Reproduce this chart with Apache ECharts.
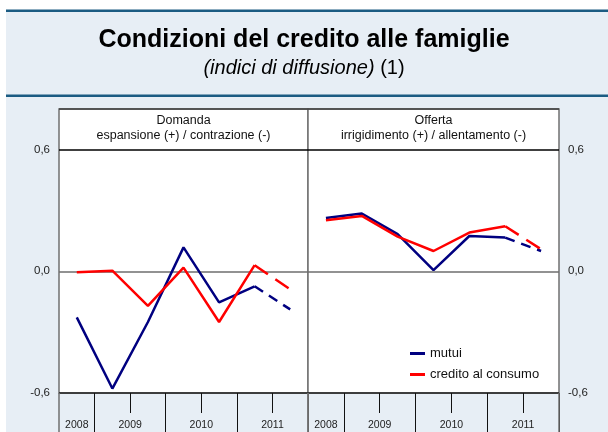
<!DOCTYPE html>
<html>
<head>
<meta charset="utf-8">
<script src="https://cdn.jsdelivr.net/npm/echarts@6/dist/echarts.min.js"></script>
<style>
  html, body { margin: 0; padding: 0; background: #fff; }
  #chart { width: 608px; height: 432px; }
</style>
</head>
<body>
<div id="chart"></div>
<script>
// semestri: 2008 S2 ... 2011 S2 (l'ultimo semestre e' una previsione, tratteggiato)
var periods = ['2008 S2', '2009 S1', '2009 S2', '2010 S1', '2010 S2', '2011 S1', '2011 S2'];
var yearTicks = ['0.5', '2', '4', '6'];
var yearNames = ['2008', '2009', '2010', '2011'];

var domandaMutui = [-0.227, -0.578, -0.25, 0.118, -0.153, -0.074, -0.188];
var domandaConsumo = [-0.005, 0.003, -0.171, 0.018, -0.25, 0.03, -0.089];
var offertaMutui = [0.263, 0.285, 0.183, 0.006, 0.174, 0.166, 0.10];
var offertaConsumo = [0.252, 0.273, 0.171, 0.10, 0.191, 0.222, 0.109];

var BLUE = '#000080';
var RED = '#ff0000';
var FONT = 'Liberation Sans, Arial, sans-serif';

function solidPart(values) {
  return values.map(function (v, i) { return i < values.length - 1 ? v : null; });
}
function dashPart(values) {
  return values.map(function (v, i) { return i >= values.length - 2 ? v : null; });
}
function fmtY(v) {
  if (Math.abs(v - 0.8) < 1e-6) return '';
  return v.toFixed(1).replace('.', ',');
}

var chart = echarts.init(document.getElementById('chart'), null, { renderer: 'canvas' });

var grids = [
  { left: 59, top: 109, width: 249, height: 284 },
  { left: 308, top: 109, width: 251, height: 284 }
];

function tickAxis(gi, length, color, width, filter) {
  return {
    type: 'category', gridIndex: gi, data: periods, boundaryGap: true,
    position: 'bottom', offset: 0,
    axisLine: { show: false, onZero: false },
    axisLabel: { show: false },
    axisTick: {
      show: true, length: length,
      interval: filter,
      lineStyle: { color: color, width: width }
    }
  };
}

var xAxes = [];
var yAxes = [];
grids.forEach(function (g, gi) {
  g.show = true;
  g.backgroundColor = '#fff';
  g.borderColor = '#707070';
  g.borderWidth = 1.5;
  g.containLabel = false;

  // asse dei dati + separatori degli anni
  xAxes.push(tickAxis(gi, 39, '#111', 1, function (i) { return i % 2 === 1; }));
  // tacche di meta' anno
  xAxes.push(tickAxis(gi, 20, '#111', 1, function (i) { return i > 0 && i % 2 === 0; }));
  // bordo del pannello sotto il grafico
  xAxes.push(tickAxis(gi, 39, '#707070', 1.5, function (i) { return i === 0; }));
  // etichette degli anni
  xAxes.push({
    type: 'value', gridIndex: gi, min: 0, max: 7, interval: 0.5,
    position: 'bottom', offset: 0,
    axisLine: { show: false, onZero: false }, axisTick: { show: false }, splitLine: { show: false },
    axisLabel: {
      margin: 27, fontSize: 10.5, color: '#222', fontFamily: FONT,
      showMinLabel: true, showMaxLabel: true,
      formatter: function (v) {
        var k = yearTicks.indexOf(String(v));
        return k >= 0 ? yearNames[k] : '';
      }
    }
  });

  yAxes.push({
    type: 'value', gridIndex: gi, position: gi === 0 ? 'left' : 'right',
    min: -0.6, max: 0.8, interval: 0.6,
    axisLine: { show: false, onZero: false }, axisTick: { show: false },
    axisLabel: { margin: 9, fontSize: 11.5, color: '#222', fontFamily: FONT, formatter: fmtY },
    splitLine: {
      show: true,
      lineStyle: { color: ['#222', '#6e6e6e', '#000', '#404040'], width: 1.5 }
    }
  });
});

function lineSeries(name, values, color, gi, dashed) {
  var dash = color === RED ? [16, 9] : [10, 7];
  return {
    name: name, type: 'line',
    xAxisIndex: gi * 4, yAxisIndex: gi,
    data: dashed ? dashPart(values) : solidPart(values),
    symbol: 'none', connectNulls: false, z: color === RED ? 4 : 3,
    lineStyle: { color: color, width: 2.5, type: dashed ? dash : 'solid' },
    itemStyle: { color: color }
  };
}

var series = [
  lineSeries('mutui', domandaMutui, BLUE, 0, false),
  lineSeries('mutui (prev.)', domandaMutui, BLUE, 0, true),
  lineSeries('credito al consumo', domandaConsumo, RED, 0, false),
  lineSeries('credito al consumo (prev.)', domandaConsumo, RED, 0, true),
  lineSeries('mutui', offertaMutui, BLUE, 1, false),
  lineSeries('mutui (prev.)', offertaMutui, BLUE, 1, true),
  lineSeries('credito al consumo', offertaConsumo, RED, 1, false),
  lineSeries('credito al consumo (prev.)', offertaConsumo, RED, 1, true)
];

chart.setOption({
  animation: false,
  backgroundColor: '#e7eef5',
  grid: grids,
  xAxis: xAxes,
  yAxis: yAxes,
  legend: {
    data: ['mutui', 'credito al consumo'],
    orient: 'vertical',
    left: 405, top: 342,
    icon: 'rect', itemWidth: 15, itemHeight: 3, itemGap: 8,
    selectedMode: false,
    textStyle: { fontSize: 13, color: '#111', fontFamily: FONT }
  },
  graphic: [
    { type: 'rect', shape: { x: 0, y: 0, width: 608, height: 10 }, style: { fill: '#fff' }, silent: true },
    { type: 'rect', shape: { x: 0, y: 0, width: 6, height: 432 }, style: { fill: '#fff' }, silent: true },
    { type: 'rect', shape: { x: 6, y: 9.5, width: 602, height: 2.5 }, style: { fill: '#1b5b82' }, silent: true },
    { type: 'rect', shape: { x: 6, y: 94.5, width: 602, height: 2.5 }, style: { fill: '#1b5b82' }, silent: true },
    {
      type: 'text', x: 304, y: 40, silent: true,
      style: {
        text: 'Condizioni del credito alle famiglie', align: 'center', verticalAlign: 'middle',
        font: 'bold 25px ' + FONT, fill: '#000'
      }
    },
    {
      type: 'text', x: 304, y: 68, silent: true,
      style: {
        text: '{i|(indici di diffusione)}{n| (1)}', align: 'center', verticalAlign: 'middle',
        fill: '#000',
        rich: {
          i: { fontStyle: 'italic', fontSize: 20, fontFamily: FONT, fill: '#000' },
          n: { fontSize: 20, fontFamily: FONT, fill: '#000' }
        }
      }
    },
    {
      type: 'text', x: 183.5, y: 128, silent: true,
      style: {
        text: 'Domanda\nespansione (+) / contrazione (-)', align: 'center', verticalAlign: 'middle',
        font: '12.5px ' + FONT, lineHeight: 15, fill: '#111'
      }
    },
    {
      type: 'text', x: 433.5, y: 128, silent: true,
      style: {
        text: 'Offerta\nirrigidimento (+) / allentamento (-)', align: 'center', verticalAlign: 'middle',
        font: '12.5px ' + FONT, lineHeight: 15, fill: '#111'
      }
    }
  ],
  series: series
});
</script>
</body>
</html>
